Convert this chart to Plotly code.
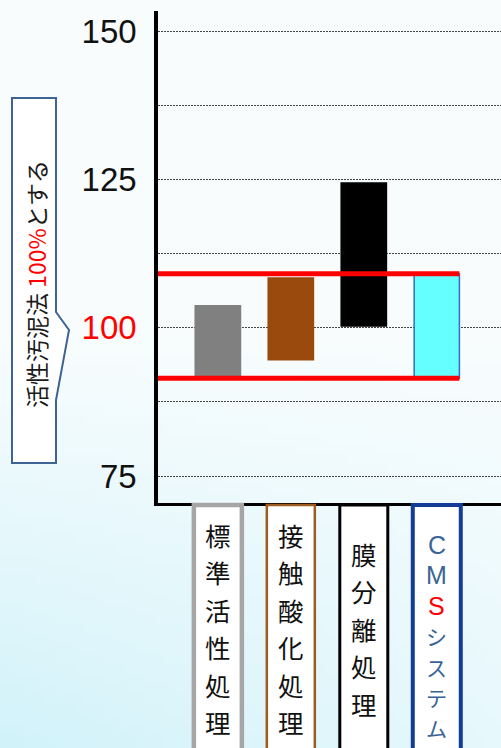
import struct
import zlib
import base64

import numpy as np
import plotly.graph_objects as go

# ---- data -------------------------------------------------------------
categories = ["標準活性処理", "接触酸化処理", "膜分離処理", "CMSシステム"]
range_low = [92.0, 94.6, 100.3, 91.5]
range_high = [103.7, 108.4, 124.4, 109.1]
tick_values = [75, 100, 125, 150]
tick_labels = ["75", "100", "125", "150"]
minor_grid_step = 12.5

# ---- styling ------------------------------------------------------------
bar_colors = ["#808080", "#994a0c", "#000000", "#66ffff"]
bar_edge = ["#808080", "#994a0c", "#000000", "#2f6fc8"]
box_colors = ["#a6a6a6", "#9e5b1f", "#000000", "#123c97"]
box_widths = [4.5, 2.5, 3, 4]
FONT = "Noto Sans CJK JP, Noto Sans, sans-serif"
LATIN = "Liberation Sans, Arial, sans-serif"

W, H = 501, 748
ML, MR, MT, MB = 158, 0, 11, 245
XR = [-0.82, 3.88]
YR = [70.45, 153.4]
PW, PH = W - ML - MR, H - MT - MB


def px_x(px):
    return (px - ML) / PW


def px_y(py):
    return (H - MB - py) / PH


def data_x(v):
    return (v - XR[0]) / (XR[1] - XR[0])


# soft watercolour-like background as a tiny PNG stretched over the page
def background_uri():
    h, w = 75, 50
    yy = np.linspace(0, 1, h)[:, None]
    xx = np.linspace(0, 1, w)[None, :]
    a = 0.10 + 0.85 * np.clip((yy - 0.45) / 0.55, 0, 1) * (1 - 0.55 * xx)
    a = np.clip(a, 0, 1)
    white = np.array([253, 254, 254], float)
    cyan = np.array([208, 242, 250], float)
    img = (white[None, None, :] * (1 - a[..., None]) + cyan[None, None, :] * a[..., None])
    img = img.astype(np.uint8)
    raw = b"".join(b"\x00" + row.tobytes() for row in img)

    def chunk(tag, data):
        return (struct.pack(">I", len(data)) + tag + data
                + struct.pack(">I", zlib.crc32(tag + data) & 0xFFFFFFFF))

    png = (b"\x89PNG\r\n\x1a\n"
           + chunk(b"IHDR", struct.pack(">IIBBBBB", w, h, 8, 2, 0, 0, 0))
           + chunk(b"IDAT", zlib.compress(raw))
           + chunk(b"IEND", b""))
    return "data:image/png;base64," + base64.b64encode(png).decode()


fig = go.Figure()

heights = [hi - lo for lo, hi in zip(range_low, range_high)]
fig.add_trace(go.Bar(
    x=categories,
    y=heights,
    base=range_low,
    width=0.62,
    marker=dict(color=bar_colors, line=dict(color=bar_edge, width=1.5)),
    hoverinfo="skip",
))

# red band spanning from the axis to the CMS bar
band_lo, band_hi = range_low[3], range_high[3]
for yv in (band_lo, band_hi):
    fig.add_shape(type="line", xref="x", yref="y",
                  x0=XR[0], x1=3 + 0.31, y0=yv, y1=yv,
                  line=dict(color="#ff0000", width=5), layer="above")

# category label boxes
for i, name in enumerate(categories):
    cx = data_x(i)
    half = 24 / PW
    fig.add_shape(type="rect", xref="paper", yref="paper",
                  x0=cx - half, x1=cx + half, y0=px_y(505), y1=px_y(770),
                  fillcolor="white",
                  line=dict(color=box_colors[i], width=box_widths[i]))


def vertical_label(i, text, centre, pitch, style):
    """Write text top-to-bottom, one character per row, at category i."""
    top = centre - pitch * (len(text) - 1) / 2
    for k, ch in enumerate(text):
        family, size, color = style(ch)
        fig.add_annotation(x=i, xref="x", y=px_y(top + k * pitch), yref="paper",
                           text=ch, showarrow=False,
                           xanchor="center", yanchor="middle",
                           font=dict(family=family, size=size, color=color))


for i, name in enumerate(categories[:3]):
    vertical_label(i, name, 628, 37.5, lambda ch: (FONT, 25.5, "#111111"))

blue = "#3b6496"


def cms_style(ch):
    if ch.isascii():
        return LATIN, 25, "#ff0000" if ch == "S" else blue
    return FONT, 21, blue


vertical_label(3, categories[3], 636, 30.5, cms_style)

# callout box pointing to the 100 level
pts = [(12, 98), (56, 98), (56, 312), (69, 330), (56, 400), (56, 463), (12, 463)]
path = "M " + " L ".join(f"{px_x(x):.5f},{px_y(y):.5f}" for x, y in pts) + " Z"
fig.add_shape(type="path", xref="paper", yref="paper", path=path,
              fillcolor="white", line=dict(color="#3d6494", width=2))
fig.add_annotation(x=px_x(36), xref="paper", y=px_y(284), yref="paper",
                   text="活性汚泥法 <span style='color:#ff0000'>100%</span>とする",
                   textangle=-90, showarrow=False,
                   xanchor="center", yanchor="middle",
                   font=dict(family=FONT, size=23, color="#1a1a1a"))

tick_text = [f"<span style='color:#ff0000'>{t}</span>" if t == "100" else t
             for t in tick_labels]

fig.update_layout(
    width=W, height=H,
    margin=dict(l=ML, r=MR, t=MT, b=MB, pad=0),
    paper_bgcolor="#fbfdfe",
    plot_bgcolor="rgba(0,0,0,0)",
    showlegend=False,
    images=[dict(source=background_uri(), xref="paper", yref="paper",
                 x=px_x(0), y=px_y(0), sizex=W / PW, sizey=H / PH,
                 xanchor="left", yanchor="top", sizing="stretch",
                 layer="below")],
    xaxis=dict(range=XR, showticklabels=False, ticks="", showgrid=False,
               zeroline=False, showline=True, linecolor="black", linewidth=3,
               fixedrange=True),
    yaxis=dict(range=YR, tickvals=tick_values, ticktext=tick_text, ticks="",
               ticklabelstandoff=11,
               tickfont=dict(family=LATIN, size=33, color="#111111"),
               showgrid=True, gridcolor="#444444", gridwidth=1, griddash="2px,1px",
               minor=dict(dtick=minor_grid_step, tick0=75, showgrid=True,
                          gridcolor="#444444", gridwidth=1, griddash="2px,1px"),
               zeroline=False, showline=True, linecolor="black", linewidth=3.5,
               fixedrange=True),
)

fig.write_html("out.html")
